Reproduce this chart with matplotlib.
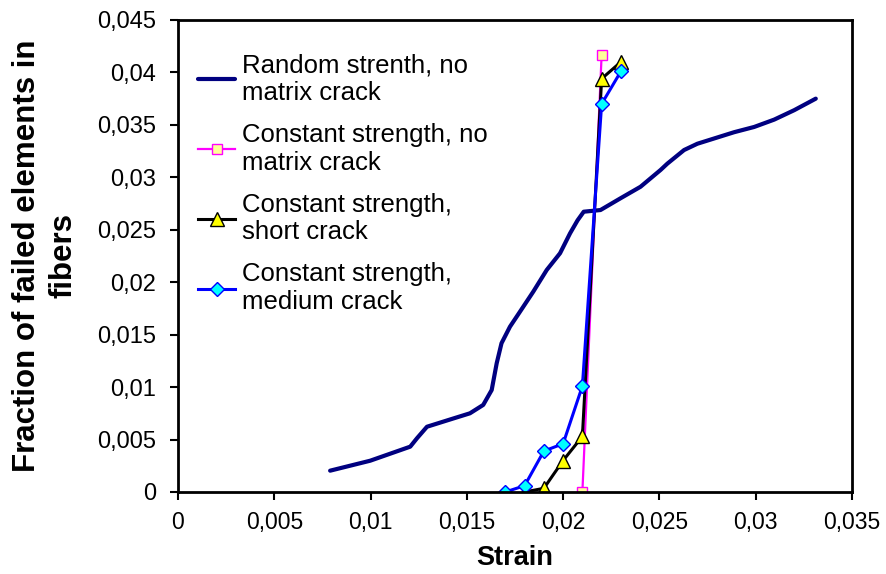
import matplotlib.pyplot as plt
from matplotlib.ticker import FuncFormatter

plt.rcParams['font.family'] = ['Liberation Sans', 'DejaVu Sans']

# Random strength, no matrix crack (smooth curve)
rand_x = [0.0079, 0.00998, 0.01206, 0.01241, 0.01293, 0.01432, 0.01516, 0.01585,
          0.01629, 0.01655, 0.0168, 0.01724, 0.01776, 0.01845, 0.01915, 0.01984,
          0.02036, 0.02075, 0.02107, 0.02194, 0.02298, 0.02402, 0.02506, 0.02541,
          0.02628, 0.02697, 0.02888, 0.02992, 0.03096, 0.0320, 0.03312]
rand_y = [0.00203, 0.00298, 0.00432, 0.00512, 0.00622, 0.00702, 0.0075, 0.0083,
          0.00972, 0.01227, 0.01418, 0.01576, 0.01719, 0.0191, 0.02117, 0.02276,
          0.02466, 0.0259, 0.02672, 0.02688, 0.0280, 0.0291, 0.0307, 0.0313,
          0.0326, 0.0332, 0.0343, 0.0348, 0.0355, 0.0364, 0.0375]

# Constant strength, no matrix crack
const_x = [0.021, 0.022]
const_y = [0.0, 0.0417]

# Constant strength, short crack
short_x = [0.018, 0.019, 0.020, 0.021, 0.022, 0.023]
short_y = [0.0, 0.00035, 0.0030, 0.0053, 0.0394, 0.0410]

# Constant strength, medium crack
med_x = [0.017, 0.018, 0.019, 0.020, 0.021, 0.022, 0.023]
med_y = [0.0, 0.0006, 0.0039, 0.0046, 0.0101, 0.0370, 0.0401]

fig = plt.figure(figsize=(8.86, 5.74), dpi=100)
ax = fig.add_axes([0.2009, 0.1429, 0.7607, 0.8223])

ax.plot(rand_x, rand_y, color='#000080', lw=3, solid_joinstyle='round',
        solid_capstyle='round', label='Random strenth, no\nmatrix crack')
ax.plot(const_x, const_y, color='#ff00ff', lw=1.6, marker='s', ms=7,
        mfc='#ffff99', mec='#ff00ff', mew=1.0,
        label='Constant strength, no\nmatrix crack')
ax.plot(short_x, short_y, color='black', lw=2.2, marker='^', ms=9.5,
        mfc='#ffff00', mec='black', mew=1.0,
        label='Constant strength,\nshort crack')
ax.plot(med_x, med_y, color='#0000ff', lw=2.2, marker='D', ms=7,
        mfc='#00ffff', mec='#0000ff', mew=1.0,
        label='Constant strength,\nmedium crack')

ax.set_xlim(0, 0.035)
ax.set_ylim(0, 0.045)
ax.set_xticks([i * 0.005 for i in range(8)])
ax.set_yticks([i * 0.005 for i in range(10)])

fmt = FuncFormatter(lambda v, p: '0' if abs(v) < 1e-12 else f'{v:g}'.replace('.', ','))
ax.xaxis.set_major_formatter(fmt)
ax.yaxis.set_major_formatter(fmt)
ax.tick_params(direction='out', length=6, width=1.5)
ax.tick_params(axis='y', labelsize=17, pad=10)
ax.tick_params(axis='x', labelsize=16.5, pad=8)
for s in ax.spines.values():
    s.set_linewidth(2)

ax.set_xlabel('Strain', fontsize=19.5, fontweight='bold')
ax.xaxis.set_label_coords(0.5, -0.14)
ax.xaxis.label.set_va('center')
ax.set_ylabel('Fraction of failed elements in\nfibers', fontsize=22.5,
              fontweight='bold', linespacing=1.3)
ax.yaxis.set_label_coords(-0.197, 0.5)
ax.yaxis.label.set_va('center')

leg = ax.legend(loc='upper left', bbox_to_anchor=(0.03, 0.93), frameon=False,
                fontsize=18.5, handlelength=1.45, handletextpad=0.25,
                labelspacing=0.7, borderaxespad=0, borderpad=0)

fig.savefig('out.png', dpi=100)
